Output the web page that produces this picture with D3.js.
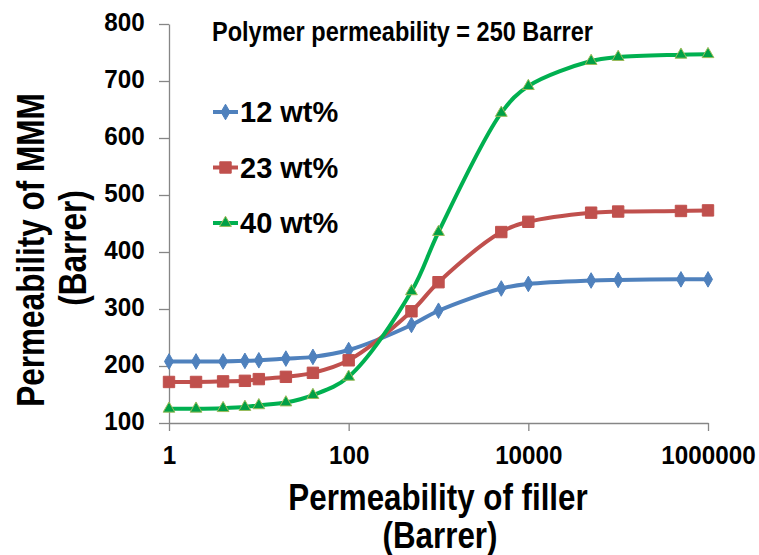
<!DOCTYPE html>
<meta charset="utf-8">
<style>
body { margin: 0; background: #fff; }
svg text { font-family: "Liberation Sans", Arial, sans-serif; font-weight: bold; fill: #000; }
.axis .domain, .axis line { stroke: #868686; stroke-width: 1.3px; }
</style>
<svg id="chart" width="759" height="555"></svg>
<script src="https://d3js.org/d3.v7.min.js"></script>
<script>

// permeability of filler (Barrer), x values shared by all series
var fillerPerm = [1, 2, 4, 7, 10, 20, 40, 100, 500, 1000, 5000, 10000, 50000, 100000, 500000, 1000000];
// permeability of MMM (Barrer) for each filler loading
var wt12 = [208, 208, 208, 209, 210, 213, 216, 228, 272, 297, 336, 344, 350, 351, 352, 352];
var wt23 = [172, 172, 173, 174, 177, 181, 188, 210, 296, 347, 435, 453, 469, 471, 472, 473];
var wt40 = [125, 125, 126, 128, 131, 136, 149, 181, 331, 435, 644, 691, 735, 742, 746, 747];
var seriesNames = ["12 wt%", "23 wt%", "40 wt%"];
var xTicks = [1, 100, 10000, 1000000];
var yTicks = [100, 200, 300, 400, 500, 600, 700, 800];
var note = "Polymer permeability = 250 Barrer";

var svg = d3.select("#chart"),
    margin = {top: 24, right: 51, bottom: 132, left: 169},
    width = +svg.attr("width") - margin.left - margin.right,
    height = +svg.attr("height") - margin.top - margin.bottom;

var x = d3.scaleLog().domain([1, 1000000]).range([margin.left, margin.left + width]);
var y = d3.scaleLinear().domain([100, 800]).range([margin.top + height, margin.top]);

var series = [
  {name: seriesNames[0], values: wt12, color: "#4f81bd", symbol: d3.symbolDiamond, size: 70, fill: "#4f81bd", stroke: "#4f81bd"},
  {name: seriesNames[1], values: wt23, color: "#c0504d", symbol: d3.symbolSquare, size: 130, fill: "#c0504d", stroke: "#c0504d"},
  {name: seriesNames[2], values: wt40, color: "#00b050", symbol: d3.symbolTriangle, size: 60, fill: "#00a046", stroke: "#9bbb59"}
];

// axes
var xAxis = svg.append("g")
    .attr("class", "axis")
    .attr("transform", "translate(0," + (margin.top + height) + ")")
    .call(d3.axisBottom(x).tickValues(xTicks).tickFormat(d3.format("d")).tickSize(8).tickSizeOuter(0));
xAxis.selectAll("text")
    .attr("y", 41)
    .attr("dy", 0)
    .attr("font-size", 25)
    .attr("transform", "scale(0.97,1)");

var yAxis = svg.append("g")
    .attr("class", "axis")
    .attr("transform", "translate(" + margin.left + ",0)")
    .call(d3.axisLeft(y).tickValues(yTicks).tickSize(10).tickSizeOuter(0));
yAxis.selectAll("text")
    .attr("x", -25)
    .attr("y", -2)
    .attr("font-size", 25)
    .attr("transform", "scale(0.97,1)");
svg.selectAll(".axis text").style("font-family", "'Liberation Sans', Arial, sans-serif").style("font-weight", "bold").attr("fill", "#000");

// lines
var line = d3.line()
    .x(function(d) { return x(d[0]); })
    .y(function(d) { return y(d[1]); })
    .curve(d3.curveCatmullRom.alpha(0.5));

series.forEach(function(s) {
  var pts = fillerPerm.map(function(v, i) { return [v, s.values[i]]; });
  svg.append("path")
      .datum(pts)
      .attr("fill", "none")
      .attr("stroke", s.color)
      .attr("stroke-width", 4)
      .attr("d", line);
});

series.forEach(function(s) {
  var pts = fillerPerm.map(function(v, i) { return [v, s.values[i]]; });
  svg.append("g").selectAll("path")
      .data(pts)
      .enter().append("path")
        .attr("transform", function(d) { return "translate(" + x(d[0]) + "," + y(d[1]) + ")"; })
        .attr("d", d3.symbol().type(s.symbol).size(s.size))
        .attr("fill", s.fill)
        .attr("stroke", s.stroke)
        .attr("stroke-width", 1);
});

// legend
var legend = svg.append("g")
  .selectAll("g")
  .data(series)
  .enter().append("g")
    .attr("transform", function(d, i) { return "translate(213," + (112 + i * 55.5) + ")"; });

legend.append("line")
    .attr("x1", 0).attr("x2", 25)
    .attr("stroke", function(d) { return d.color; })
    .attr("stroke-width", 4);

legend.append("path")
    .attr("transform", "translate(12.5,0)")
    .attr("d", function(d) { return d3.symbol().type(d.symbol).size(d.size)(); })
    .attr("fill", function(d) { return d.fill; })
    .attr("stroke", function(d) { return d.stroke; });

legend.append("text")
    .attr("x", 27)
    .attr("y", 10)
    .attr("font-size", 29)
    .text(function(d) { return d.name; });

// annotation
svg.append("text")
    .attr("transform", "translate(212,41) scale(0.84,1)")
    .attr("font-size", 28)
    .text(note);

// axis titles
svg.append("text")
    .attr("transform", "translate(438,510) scale(0.87,1)")
    .attr("text-anchor", "middle")
    .attr("font-size", 36)
    .text("Permeability of filler");
svg.append("text")
    .attr("transform", "translate(440,548) scale(0.87,1)")
    .attr("text-anchor", "middle")
    .attr("font-size", 36)
    .text("(Barrer)");

svg.append("text")
    .attr("transform", "translate(44,250) rotate(-90) scale(0.83,1)")
    .attr("text-anchor", "middle")
    .attr("font-size", 38)
    .text("Permeability of MMM");
svg.append("text")
    .attr("transform", "translate(86,248) rotate(-90) scale(0.83,1)")
    .attr("text-anchor", "middle")
    .attr("font-size", 38)
    .text("(Barrer)");

</script>
